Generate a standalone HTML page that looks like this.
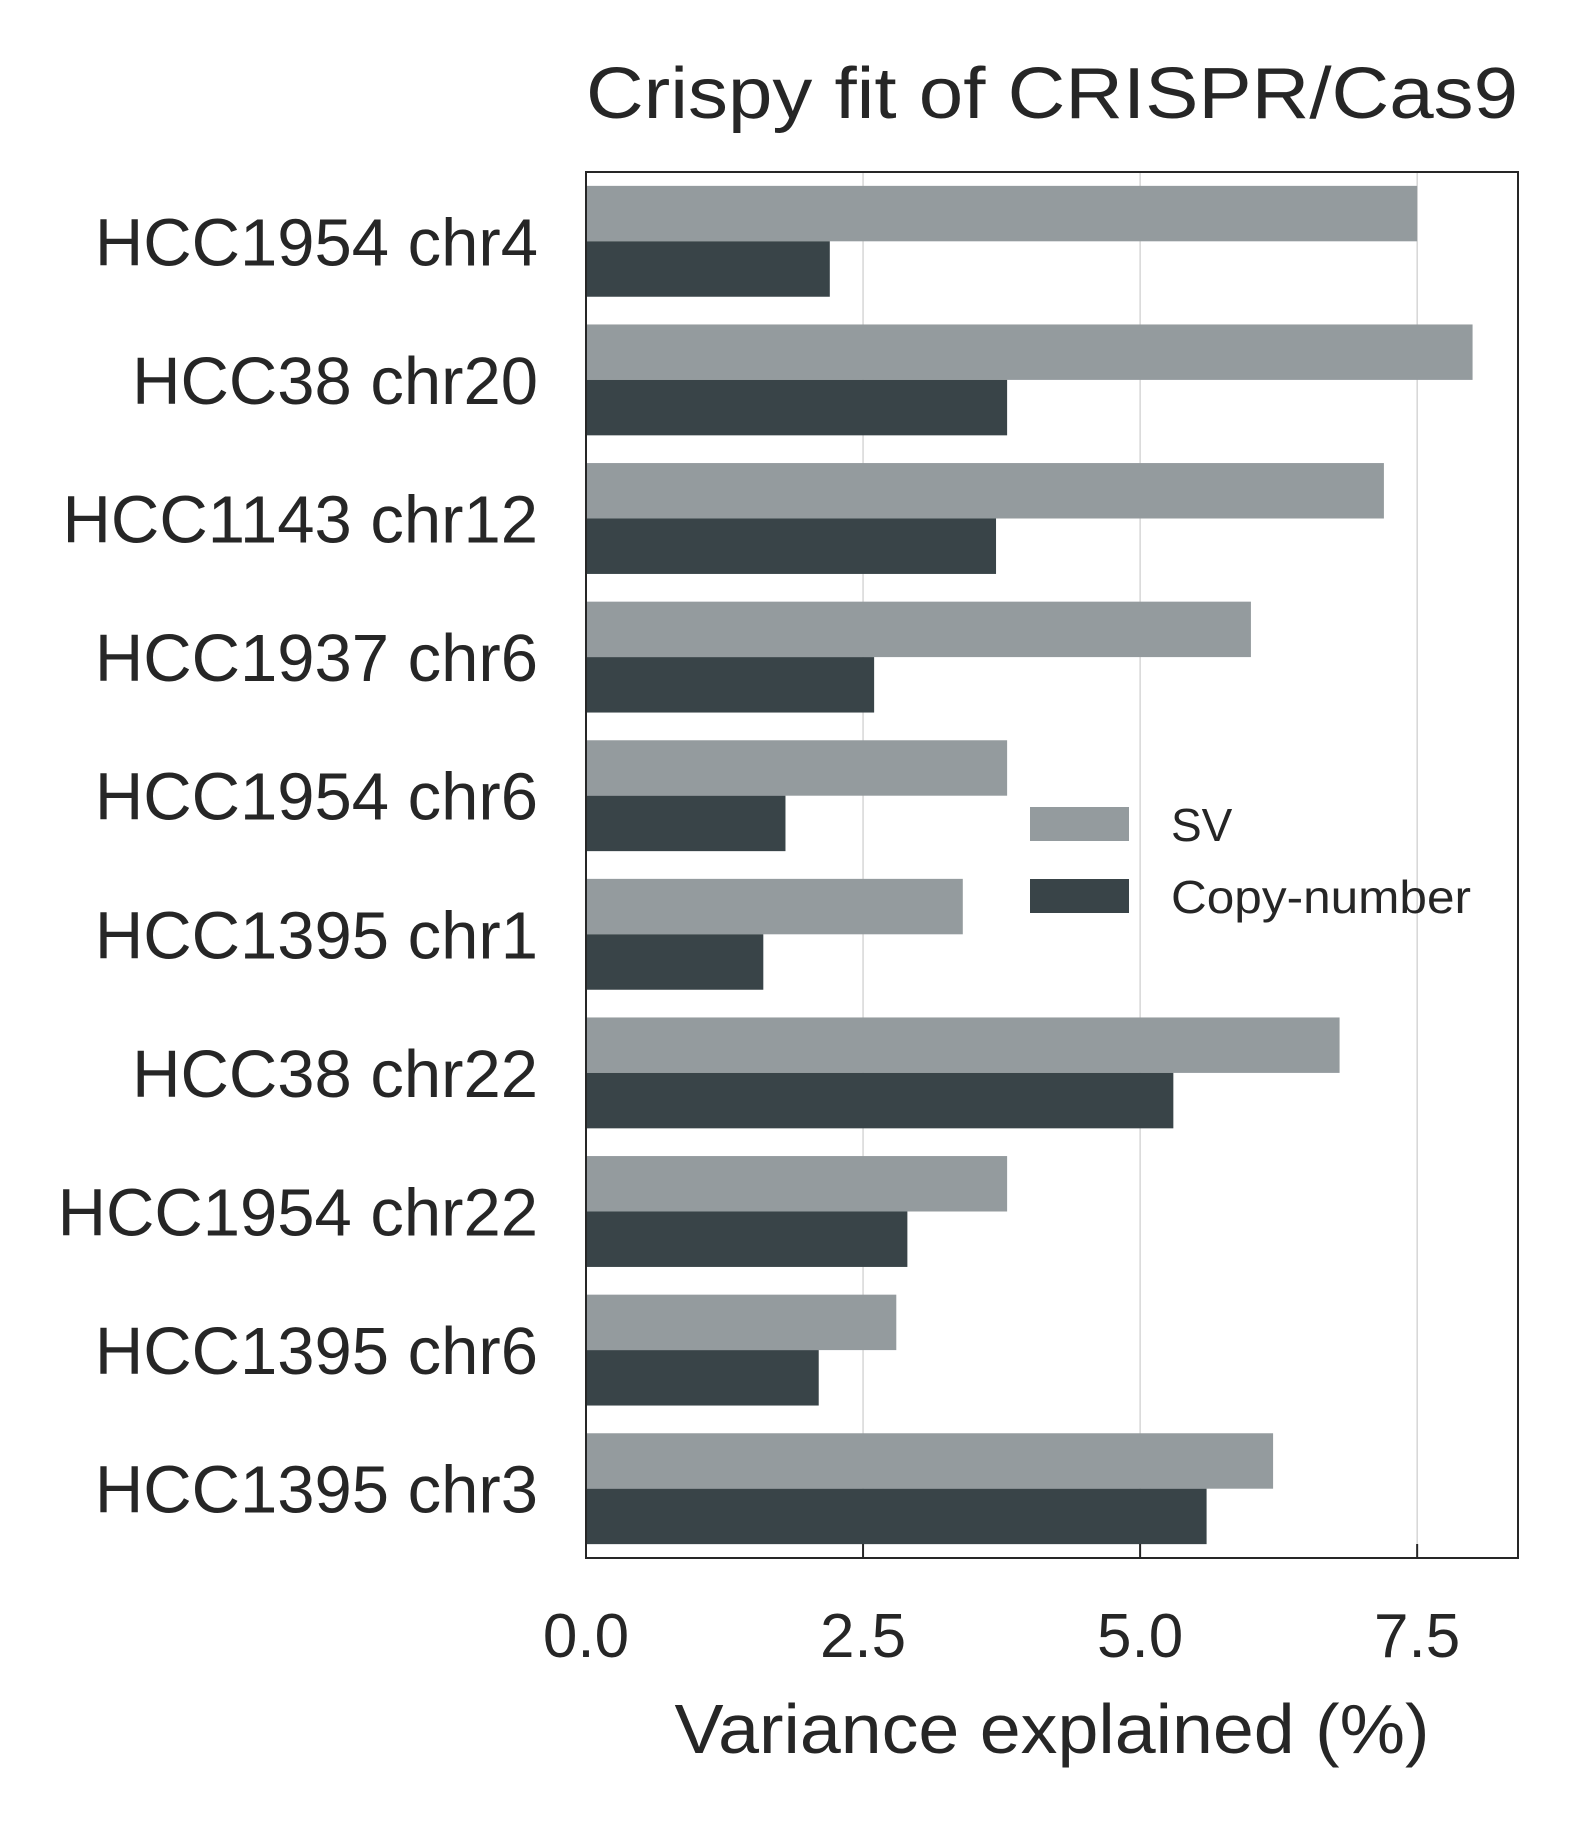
<!DOCTYPE html>
<html><head><meta charset="utf-8"><style>
html,body{margin:0;padding:0;background:#fff;}
svg text{font-family:"Liberation Sans",Arial,sans-serif;fill:#262626;}
</style></head><body>
<svg id="chart" width="1576" height="1827" xmlns="http://www.w3.org/2000/svg">
<text x="1052" y="118" font-size="72" text-anchor="middle" textLength="932" lengthAdjust="spacingAndGlyphs">Crispy fit of CRISPR/Cas9</text>
<g id="grid"></g>
<g id="bars"></g>
<g id="ylabels"></g>
<g id="xticks"></g>
<rect x="586" y="172" width="932" height="1386" fill="none" stroke="#262626" stroke-width="2"/>
<text x="1052" y="1753" font-size="70" text-anchor="middle" textLength="755" lengthAdjust="spacingAndGlyphs">Variance explained (%)</text>
<g>
<rect x="1030" y="807" width="99" height="34" fill="#949b9e"/>
<text x="1171" y="841" font-size="46">SV</text>
<rect x="1030" y="879" width="99" height="34" fill="#394448"/>
<text x="1171" y="913" font-size="46" textLength="300" lengthAdjust="spacingAndGlyphs">Copy-number</text>
</g>
</svg>
<script>
const categories = ["HCC1954 chr4","HCC38 chr20","HCC1143 chr12","HCC1937 chr6","HCC1954 chr6","HCC1395 chr1","HCC38 chr22","HCC1954 chr22","HCC1395 chr6","HCC1395 chr3"];
const svValues = [7.5,8.0,7.2,6.0,3.8,3.4,6.8,3.8,2.8,6.2];
const cnValues = [2.2,3.8,3.7,2.6,1.8,1.6,5.3,2.9,2.1,5.6];
const xTicks = [0,2.5,5.0,7.5];
const xTickLabels = ["0.0","2.5","5.0","7.5"];

const NS="http://www.w3.org/2000/svg";
const L=586,R=1518,T=172,B=1558,XMAX=8.41;
const x=v=>L+(R-L)*v/XMAX;
const band=(B-T)/categories.length;
const y=i=>T+band*i;
function mk(tag,attrs,parent){const e=document.createElementNS(NS,tag);for(const k in attrs)e.setAttribute(k,attrs[k]);document.getElementById(parent).appendChild(e);return e;}
xTicks.forEach((t,i)=>{
  const g=mk('line',{x1:x(t),x2:x(t),y1:T,y2:B,stroke:'#cccccc','stroke-width':1.2},'grid');
  
  
  const tk=mk('line',{x1:x(t),x2:x(t),y1:B,y2:B-14,stroke:'#262626','stroke-width':2},'xticks');
  
  
  const tl=mk('text',{x:x(t),y:1657,'font-size':62,'text-anchor':'middle'},'xticks');
  tl.textContent=xTickLabels[i];
  
  
});
categories.forEach((c,i)=>{
  const bh=band*0.4, y0=y(i)+band*0.1;
  const s=mk('rect',{x:L,y:y0,width:x(svValues[i])-L,height:bh,fill:'#949b9e'},'bars');
  
  
  const n=mk('rect',{x:L,y:y0+bh,width:x(cnValues[i])-L,height:bh,fill:'#394448'},'bars');
  
  
  const t=mk('text',{x:538,y:y(i)+band/2+24,'font-size':67,'text-anchor':'end'},'ylabels');
  t.textContent=c;
  
  
});
</script>
</body></html>
